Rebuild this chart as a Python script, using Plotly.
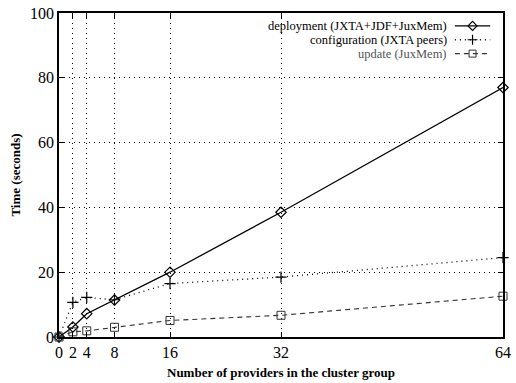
import plotly.graph_objects as go

providers = [0, 2, 4, 8, 16, 32, 64]
deployment = [0, 3.1, 7.2, 11.4, 20.0, 38.5, 77.0]
configuration = [0, 10.7, 12.2, 11.5, 16.5, 18.5, 24.5]
update = [0, 1.6, 1.9, 3.0, 5.1, 6.7, 12.6]
x_ticks = [0, 2, 4, 8, 16, 32, 64]
y_ticks = [0, 20, 40, 60, 80, 100]
legend_labels = ["deployment (JXTA+JDF+JuxMem)", "configuration (JXTA peers)", "update (JuxMem)"]

FONT = "Liberation Serif, Tinos, Times New Roman, Times, serif"
W, H = 516, 383
ml, mr, mt, mb = 59, 5, 10, 46

fig = go.Figure()
series = [
    (deployment, dict(color="black", width=1.3, dash="solid"), dict(symbol="diamond-open", size=8, color="black", line=dict(width=1.2))),
    (configuration, dict(color="black", width=1.3, dash="1px,4px"), dict(symbol="cross-thin-open", size=8, color="black", line=dict(width=1.2))),
    (update, dict(color="#333", width=1.1, dash="5px,4px"), dict(symbol="square-open", size=8, color="#333", line=dict(width=1))),
]
for vals, ln, mk in series:
    fig.add_trace(go.Scatter(x=providers, y=vals, mode="lines+markers", line=ln, marker=mk,
                             showlegend=False, cliponaxis=False))

pw = W - ml - mr
ph = H - mt - mb
rows_y = [23, 37, 51]
key_x0, key_x1 = 462, 498
for (vals, ln, mk), ry, lab, tc in zip(series, rows_y, legend_labels, ["black", "black", "#555"]):
    yp = 1 - (ry - mt) / ph
    x0 = (key_x0 - ml) / pw
    x1 = (key_x1 - ml) / pw
    fig.add_trace(go.Scatter(x=[x0, x1], y=[yp, yp], xaxis="x2", yaxis="y2",
                             mode="lines", line=ln, showlegend=False, hoverinfo="skip"))
    fig.add_trace(go.Scatter(x=[(x0 + x1) / 2], y=[yp], xaxis="x2", yaxis="y2",
                             mode="markers", marker=dict(mk, size=mk["size"] - 1), showlegend=False, hoverinfo="skip"))
    fig.add_annotation(x=(456 - ml) / pw, y=yp, xref="paper", yref="paper", text=lab,
                       xanchor="right", yanchor="middle", showarrow=False,
                       font=dict(family=FONT, size=12.5, color=tc))

fig.update_layout(
    width=W, height=H,
    margin=dict(l=ml, r=mr, t=mt, b=mb),
    paper_bgcolor="white", plot_bgcolor="white",
    font=dict(family=FONT, color="black"),
    xaxis=dict(range=[0, 64], tickvals=x_ticks, ticktext=[str(v) for v in x_ticks],
               ticks="inside", ticklen=5, tickcolor="black", mirror="ticks",
               showline=True, linecolor="black", linewidth=1.5,
               showgrid=True, gridcolor="black", griddash="1px,4px", gridwidth=1,
               zeroline=False, tickfont=dict(size=16, family=FONT), ticklabeloverflow="allow",
               title=dict(text="<b>Number of providers in the cluster group</b>", font=dict(size=13, family=FONT), standoff=8)),
    yaxis=dict(range=[0, 100], tickvals=y_ticks,
               ticks="inside", ticklen=5, tickcolor="black", mirror="ticks",
               showline=True, linecolor="black", linewidth=1.5,
               showgrid=True, gridcolor="black", griddash="1px,4px", gridwidth=1,
               zeroline=False, tickfont=dict(size=16, family=FONT),
               title=dict(text="<b>Time (seconds)</b>", font=dict(size=13, family=FONT), standoff=6)),
    xaxis2=dict(range=[0, 1], domain=[0, 1], overlaying="x", visible=False, fixedrange=True),
    yaxis2=dict(range=[0, 1], domain=[0, 1], overlaying="y", visible=False, fixedrange=True),
)

fig.write_html("out.html", config={"displayModeBar": False},
               post_script="document.body.style.margin='0';document.body.style.overflow='hidden';")
